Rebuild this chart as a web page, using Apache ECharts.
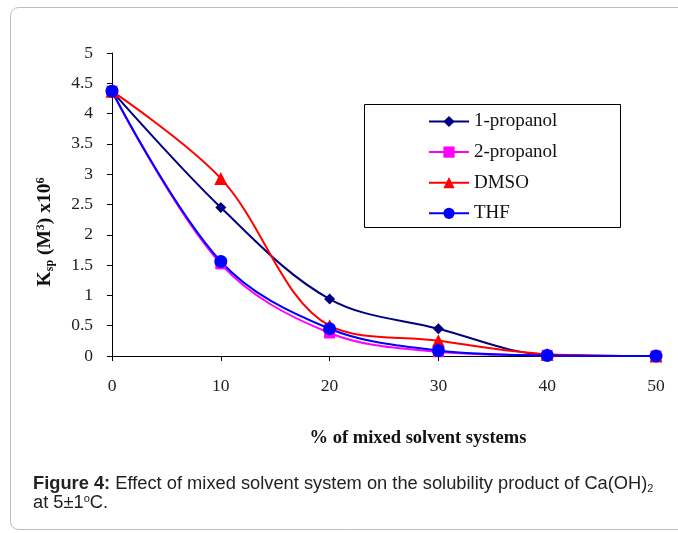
<!DOCTYPE html>
<html><head><meta charset="utf-8">
<script src="https://cdn.jsdelivr.net/npm/echarts@6/dist/echarts.min.js"></script>
<style>html,body{margin:0;padding:0;background:#fff}#c{width:678px;height:533px}</style>
</head><body><div id="c"></div>
<script>
const xValues = [0, 10, 20, 30, 40, 50];
const propanol1 = [4.37, 2.45, 0.94, 0.45, 0.02, 0.0];
const propanol2 = [4.37, 1.52, 0.38, 0.07, 0.01, 0.0];
const dmso = [4.37, 2.93, 0.50, 0.25, 0.03, 0.0];
const thf = [4.37, 1.56, 0.45, 0.09, 0.01, 0.0];
const seriesNames = ['1-propanol', '2-propanol', 'DMSO', 'THF'];
const yTicks = ['0','0.5','1','1.5','2','2.5','3','3.5','4','4.5','5'];

const chart = echarts.init(document.getElementById('c'));
const serif = 'Liberation Serif';
function mk(name, vals, color, symbol, size) {
  return {
    name, type: 'line', smooth: 0.35,
    data: xValues.map((x, i) => [x, vals[i]]),
    symbol, symbolSize: size,
    lineStyle: { color, width: 2 },
    itemStyle: { color },
    z: 3
  };
}
chart.setOption({
  animation: false,
  backgroundColor: '#fff',
  grid: { left: 112, right: 22, top: 53, bottom: 177 },
  xAxis: {
    type: 'value', min: 0, max: 50, interval: 10,
    axisLine: { lineStyle: { color: '#000', width: 1 } },
    axisTick: { show: true, length: 5, lineStyle: { color: '#000' } },
    axisLabel: { fontFamily: serif, fontSize: 17.5, color: '#222', margin: 21 },
    splitLine: { show: false }
  },
  yAxis: {
    type: 'value', min: 0, max: 5, interval: 0.5,
    axisLine: { show: true, lineStyle: { color: '#000', width: 1 } },
    axisTick: { show: true, length: 5, lineStyle: { color: '#000' } },
    axisLabel: { fontFamily: serif, fontSize: 17.5, color: '#222', margin: 19,
      formatter: (v) => { const i = Math.round(v * 2); return yTicks[i]; } },
    splitLine: { show: false }
  },
  legend: {
    orient: 'vertical', left: 423, top: 107,
    itemWidth: 40, itemHeight: 14, itemGap: 11.6,
    textStyle: { fontFamily: serif, fontSize: 19, color: '#111' },
    data: seriesNames
  },
  graphic: [
    { type: 'rect', shape: { x: 10.5, y: 7.5, width: 720, height: 522, r: 8 },
      style: { fill: 'none', stroke: '#bdbdbd', lineWidth: 1 }, z: 0 },
    { type: 'rect', shape: { x: 364.5, y: 104.5, width: 256, height: 123 },
      style: { fill: '#fff', stroke: '#000', lineWidth: 1 }, z: 1 },
    { type: 'text', x: 45, y: 232, rotation: Math.PI / 2, z: 5,
      style: { rich: {
          b: { fontFamily: serif, fontWeight: 'bold', fontSize: 19.5, fill: '#111' },
          sub: { fontFamily: serif, fontWeight: 'bold', fontSize: 12, fill: '#111', padding: [9, 0, 0, 0] },
          sup: { fontFamily: serif, fontWeight: 'bold', fontSize: 12, fill: '#111', padding: [0, 0, 9, 0] }
        },
        text: '{b|K}{sub|sp}{b| (M}{sup|3}{b|) x10}{sup|6}',
        align: 'center', verticalAlign: 'middle' } },
    { type: 'text', x: 418, y: 438, z: 5,
      style: { text: '% of mixed solvent systems', fontFamily: serif, fontWeight: 'bold', fontSize: 18.5,
        fill: '#111', align: 'center', verticalAlign: 'middle' } },
    { type: 'text', x: 33, y: 484, z: 5,
      style: { rich: {
          b: { fontFamily: 'Liberation Sans', fontWeight: 'bold', fontSize: 18.3, fill: '#222' },
          n: { fontFamily: 'Liberation Sans', fontSize: 18.3, fill: '#222' },
          sub: { fontFamily: 'Liberation Sans', fontSize: 11, fill: '#222', padding: [9, 0, 0, 0] }
        },
        text: '{b|Figure 4:}{n| Effect of mixed solvent system on the solubility product of Ca(OH)}{sub|2}',
        verticalAlign: 'middle' } },
    { type: 'text', x: 33, y: 503, z: 5,
      style: { rich: {
          n: { fontFamily: 'Liberation Sans', fontSize: 18.3, fill: '#222' },
          sup: { fontFamily: 'Liberation Sans', fontSize: 11, fill: '#222', padding: [0, 0, 9, 0] }
        },
        text: '{n|at 5±1}{sup|o}{n|C.}', verticalAlign: 'middle' } }
  ],
  series: [
    mk('1-propanol', propanol1, '#000080', 'diamond', 11),
    mk('2-propanol', propanol2, '#ff00ff', 'rect', 11),
    mk('DMSO', dmso, '#ff0000', 'triangle', 13),
    mk('THF', thf, '#0000ff', 'circle', 13)
  ]
});
</script></body></html>
